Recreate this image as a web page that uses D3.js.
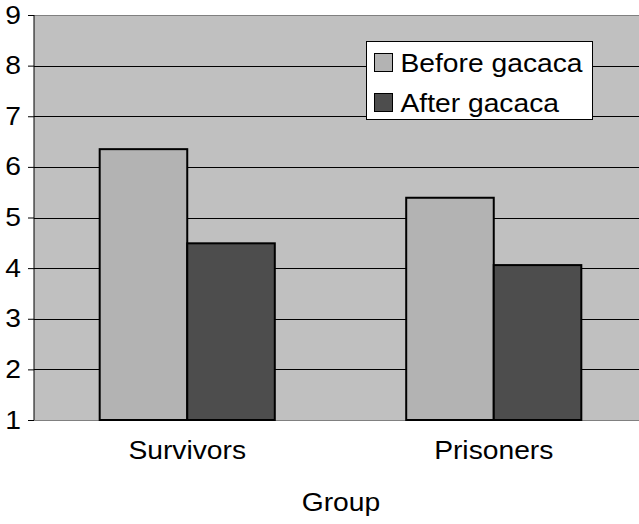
<!DOCTYPE html>
<html>
<head>
<meta charset="utf-8">
<script src="https://cdn.jsdelivr.net/npm/d3@7"></script>
<style>
    body { margin: 0; background: #fff; }
    svg text { font-family: Arial, "Liberation Sans", sans-serif; fill: #000; }
</style>
</head>
<body>
<svg></svg>
<script>
// Data
let groups = ['Survivors', 'Prisoners']
let series = ['Before gacaca', 'After gacaca']
let before = [6.35, 5.39]
let after = [4.49, 4.06]
let yTicks = [1, 2, 3, 4, 5, 6, 7, 8, 9]
let colors = ['#b3b3b3', '#4d4d4d']

let width = 639
let height = 524
let plot = { left: 34, right: 647, top: 15, bottom: 420 }
// text in the original is a bit wider than the font
let stretch = 1.13

function widen(sel) {
    sel.each(function() {
        let t = d3.select(this)
        let x = +t.attr('x') || 0
        t.attr('x', x / stretch).attr('transform', `scale(${stretch},1)`)
    })
}

let svg = d3.select('svg')
    .attr('width', width)
    .attr('height', height)

// Scales
let scale = {
    x: d3.scaleBand().domain(groups).range([plot.left, plot.right])
        .paddingInner(0.4287).paddingOuter(0.2143),
    y: d3.scaleLinear().domain([1, 9]).range([plot.bottom, plot.top])
}
let inner = d3.scaleBand().domain(series).range([0, scale.x.bandwidth()])

// Plot background
svg.append('rect')
    .attr('x', plot.left)
    .attr('y', plot.top)
    .attr('width', plot.right - plot.left)
    .attr('height', plot.bottom - plot.top)
    .attr('fill', '#c0c0c0')

// Grid
svg.append('g')
    .attr('transform', `translate(${plot.left},0)`)
    .call(d3.axisLeft(scale.y).tickValues(yTicks.slice(1, -1)).tickFormat('').tickSize(-(plot.right - plot.left)))
    .call(g => g.select('.domain').remove())
    .call(g => g.selectAll('line').attr('stroke', '#000').attr('shape-rendering', 'crispEdges'))

// Top / bottom border
svg.append('line')
    .attr('x1', plot.left).attr('x2', plot.right)
    .attr('y1', scale.y(9)).attr('y2', scale.y(9))
    .attr('stroke', '#808080').attr('shape-rendering', 'crispEdges')
svg.append('line')
    .attr('x1', plot.left).attr('x2', plot.right)
    .attr('y1', scale.y(1)).attr('y2', scale.y(1))
    .attr('stroke', '#808080').attr('shape-rendering', 'crispEdges')

// Bars
let rows = groups.map((g, i) => ({ group: g, values: [before[i], after[i]] }))
svg.append('g')
    .selectAll('g')
    .data(rows)
    .join('g')
    .attr('transform', d => `translate(${scale.x(d.group)},0)`)
    .selectAll('rect')
    .data(d => d.values.map((v, j) => ({ key: series[j], value: v, color: colors[j] })))
    .join('rect')
    .attr('x', d => inner(d.key))
    .attr('y', d => scale.y(d.value))
    .attr('width', inner.bandwidth())
    .attr('height', d => scale.y(1) - scale.y(d.value))
    .attr('fill', d => d.color)
    .attr('stroke', '#000')
    .attr('stroke-width', 2)

// Y axis
svg.append('g')
    .attr('transform', `translate(${plot.left},0)`)
    .call(d3.axisLeft(scale.y).tickValues(yTicks).tickSize(6).tickPadding(8))
    .call(g => g.select('.domain').attr('stroke', '#000').attr('d', `M0,${plot.top}V${plot.bottom}`))
    .call(g => g.selectAll('line').attr('stroke', '#000'))
    .call(g => g.selectAll('text').style('font-size', '25px').attr('fill', '#000').attr('x', -13))
    .call(g => widen(g.selectAll('text')))

// X labels
svg.append('g')
    .selectAll('text')
    .data(groups)
    .join('text')
    .attr('x', d => scale.x(d) + scale.x.bandwidth() / 2)
    .attr('y', 459)
    .attr('text-anchor', 'middle')
    .style('font-size', '25px')
    .text(d => d)
    .call(widen)

// Axis title
svg.append('text')
    .attr('x', 341)
    .attr('y', 511)
    .attr('text-anchor', 'middle')
    .style('font-size', '25px')
    .text('Group')
    .call(widen)

// Legend
let legend = svg.append('g').attr('transform', 'translate(366.5,41.5)')
legend.append('rect')
    .attr('width', 226)
    .attr('height', 78)
    .attr('fill', '#fff')
    .attr('stroke', '#000')
    .attr('stroke-width', 1)
let items = legend.selectAll('g')
    .data(series)
    .join('g')
    .attr('transform', (d, i) => `translate(8,${12 + i * 40})`)
items.append('rect')
    .attr('width', 18)
    .attr('height', 18)
    .attr('fill', (d, i) => colors[i])
    .attr('stroke', '#000')
items.append('text')
    .attr('x', 26)
    .attr('y', 18)
    .style('font-size', '25px')
    .text(d => d)
    .call(widen)
</script>
</body>
</html>
